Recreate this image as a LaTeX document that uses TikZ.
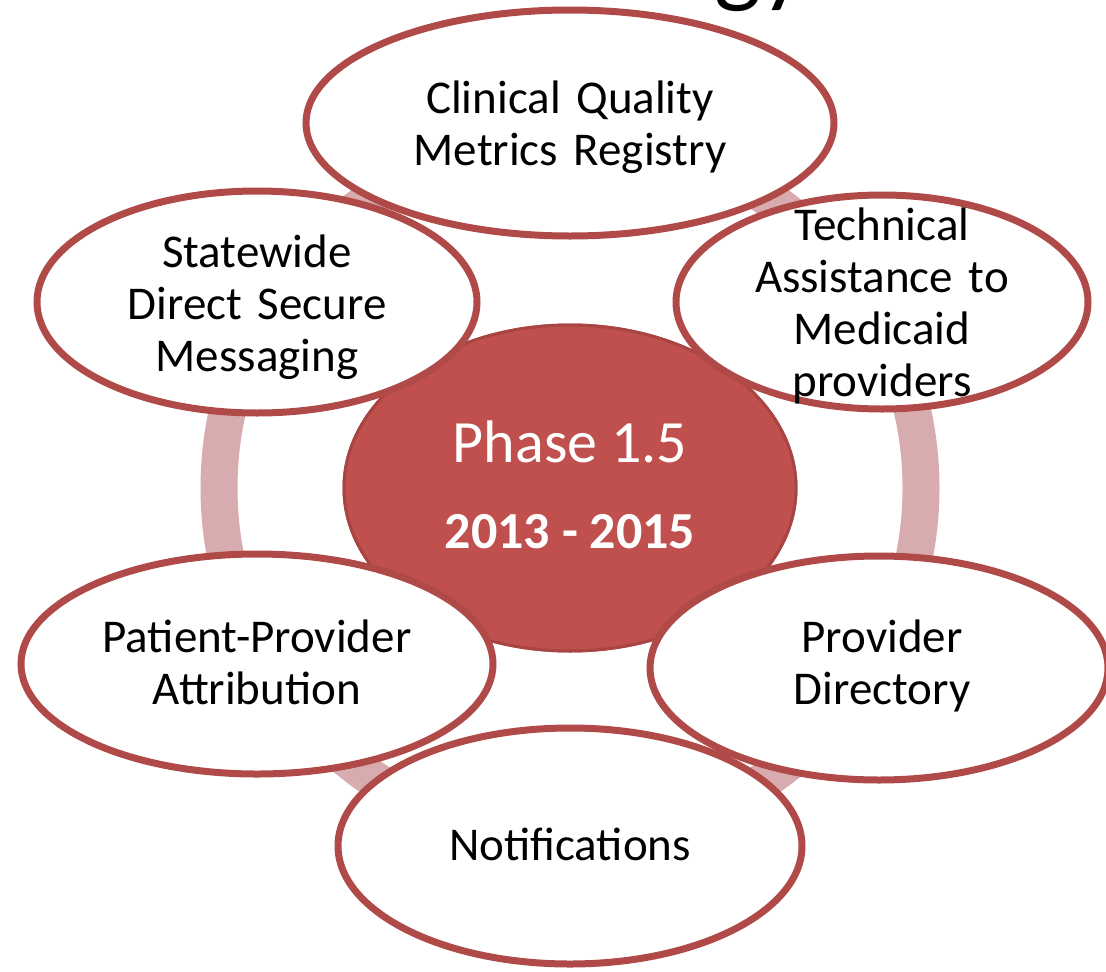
\documentclass[tikz,border=0pt]{standalone}
\usepackage{fontspec}
\setmainfont{Carlito}
\usetikzlibrary{shapes.geometric}

\definecolor{hubred}{RGB}{192,80,77}
\definecolor{hubline}{RGB}{168,68,66}
\definecolor{bubline}{RGB}{176,74,72}
\definecolor{ringpink}{RGB}{216,172,174}

\tikzset{
  hub/.style={ellipse, draw=hubline, line width=3pt, fill=hubred, inner sep=0pt},
  bub/.style={ellipse, draw=bubline, line width=7pt, fill=white, inner sep=0pt},
  bubtext/.style={text width=400pt, align=center, anchor=base,
    font=\fontsize{47}{52}\selectfont},
}

\begin{document}
\begin{tikzpicture}[x=1pt, y=-1pt]

    \useasboundingbox (0,0) rectangle (1106,972);
    \clip (0,0) rectangle (1106,972);

    % bubble[name, x, y, xr, yr]
    \def\bubble[#1, #2, #3, #4, #5]{
      \node[bub, minimum width=2*#4, minimum height=2*#5] (#1) at (#2,#3) {};
    }

    % cut off title
    \node[anchor=base west, inner sep=0pt, font=\fontsize{100}{100}\selectfont] (title) at (714,-6) {gy};

    % ring and centre
    \node[hub, minimum width=452, minimum height=326] (hub) at (570,488) {};
    \draw[ringpink, line width=37] (hub.center) circle[radius=351];
    \node[hub, minimum width=452, minimum height=326] (hub) at (570,488) {};
    \node[anchor=base, text=white, font=\fontsize{60}{60}\selectfont] (phase) at (570,462) {Phase 1.5};
    \node[anchor=base, text=white, font=\fontsize{52}{52}\selectfont\bfseries] (years) at (570,548) {2013 - 2015};

    % bubbles, clockwise from the top
    \bubble[top, 570, 123, 264, 113]
    \node[bubtext] (topT) at (570,113) {Clinical Quality\\Metrics Registry};

    \bubble[tech, 882, 302, 206, 107]
    \node[bubtext] (techT) at (882,240) {Technical\\Assistance to\\Medicaid\\providers};

    \bubble[prov, 879, 668, 229, 112]
    \node[bubtext] (provT) at (882,652) {Provider\\Directory};

    \bubble[notif, 570, 846, 232, 118]
    \node[bubtext] (notifT) at (570,860) {Notifications};

    \bubble[attr, 257, 664, 236, 110]
    \node[bubtext] (attrT) at (257,652) {Patient-Provider\\Attribution};

    \bubble[msg, 257, 302, 220, 111]
    \node[bubtext] (msgT) at (257,267) {Statewide\\Direct Secure\\Messaging};

\end{tikzpicture}
\end{document}
